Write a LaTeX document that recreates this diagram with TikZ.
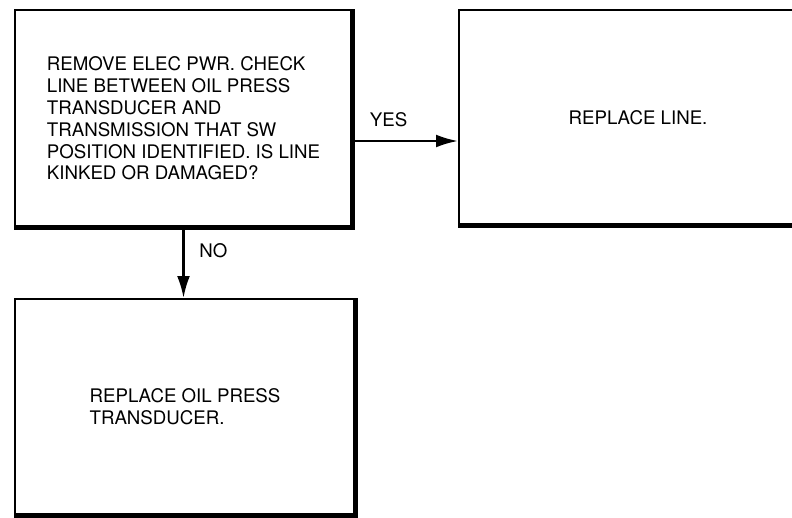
\documentclass[tikz,border=0pt]{standalone}
\usepackage{fontspec}
\setmainfont{TeX Gyre Heros}
\usetikzlibrary{arrows.meta, positioning}

\begin{document}
\begin{tikzpicture}[every node/.style={font=\fontsize{13.3}{15.5}\selectfont}, >={Latex[length=5.5mm, width=3.2mm]},
    stepbox/.style={draw, rectangle, line width=1.3pt, align=left},
    heavy/.style={line width=3.6pt}]
  \useasboundingbox (0,0) rectangle (19.8,-12.925);
  \clip (0,0) rectangle (19.8,-12.925);

  % question (top left)
  \node[stepbox, minimum width=8.425cm, minimum height=5.425cm] (check) at (4.5875,-2.9625)
    {REMOVE ELEC PWR. CHECK\\LINE BETWEEN OIL PRESS\\TRANSDUCER AND\\TRANSMISSION THAT SW\\POSITION IDENTIFIED. IS LINE\\KINKED OR DAMAGED?};
  \draw[heavy] (check.north east) -- (check.south east) -- (check.south west);

  % yes branch (top right, runs off the page)
  \node[stepbox, minimum width=8.95cm, minimum height=5.375cm] (line) at (15.95,-2.9375) {REPLACE LINE.};
  \draw[heavy] (line.north east) -- (line.south east) -- (line.south west);

  % no branch (bottom left)
  \node[stepbox, minimum width=8.5cm, minimum height=5.4cm] (trans) at (4.625,-10.175)
    {REPLACE OIL PRESS\\TRANSDUCER.};
  \draw[heavy] (trans.north east) -- (trans.south east) -- (trans.south west);

  \draw[->, line width=1.8pt] ([yshift=-0.5625cm]check.east) -- ([yshift=-0.5625cm]check.east -| line.west)
    node[pos=0.34, above=0.2cm] (yes) {YES};
  \draw[->, line width=1.8pt] (check.south) -- (check.south |- trans.north)
    node[pos=0.32, right=0.25cm] (no) {NO};
\end{tikzpicture}
\end{document}
